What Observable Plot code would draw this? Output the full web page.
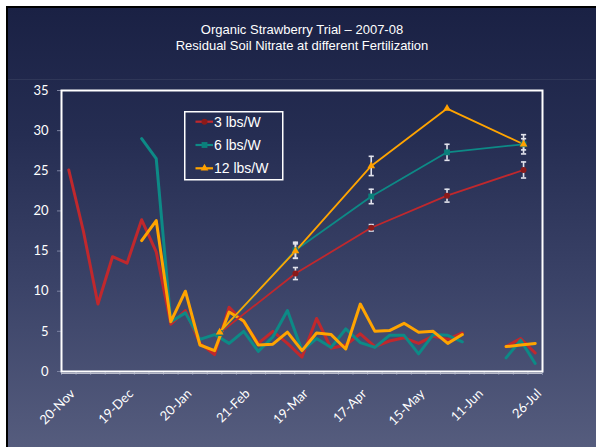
<!DOCTYPE html>
<html>
<head>
<meta charset="utf-8">
<script src="https://cdn.jsdelivr.net/npm/d3@7"></script>
<script src="https://cdn.jsdelivr.net/npm/@observablehq/plot@0.6"></script>
<style>
  html, body { margin: 0; padding: 0; background: #fff; }
  #page { position: relative; width: 596px; height: 447px; overflow: hidden; background: #fff; }
  #panel { position: absolute; left: 6px; top: 6px; width: 600px; height: 450px;
    border-left: 2px solid #000; border-top: 2px solid #000;
    background: linear-gradient(180deg, #1a2144 0%, #252d52 28%, #3b4368 62%, #575e7f 100%); }
  #sep { position: absolute; left: 8px; top: 79px; width: 590px; height: 1px; background: rgba(255,255,255,0.07); }
  #title { position: absolute; left: 8px; width: 588px; top: 22px; text-align: center; color: #fff;
    font: 13px "Liberation Sans", Arial, sans-serif; line-height: 16px; }
  #chart { position: absolute; left: 0; top: 0; }
  #legend { position: absolute; left: 184px; top: 111px; }
</style>
</head>
<body>
<div id="page">
  <div id="panel"></div>
  <div id="sep"></div>
  <div id="title">Organic Strawberry Trial – 2007-08<br>Residual Soil Nitrate at different Fertilization</div>
  <div id="chart"></div>
  <svg id="legend" width="100" height="70"></svg>
</div>
<script>
// ---- data ----
const seriesNames = ["3 lbs/W", "6 lbs/W", "12 lbs/W"];
const lineColors = ["#c0282d", "#0d8a86", "#ffa400"];
const markerColors = ["#8b1a1a", "#0b7f7b", "#ffa000"];
const markerSymbols = ["circle", "square", "triangle"];

// category axis: 33 sampling dates, every 4th labelled
const categoryCount = 33;
const xTickLabels = ["20-Nov", "19-Dec", "20-Jan", "21-Feb", "19-Mar", "17-Apr", "15-May", "11-Jun", "26-Jul"];
const yTicks = [0, 5, 10, 15, 20, 25, 30, 35];

// frequent sampling (thick lines), null = no sample
const daily3 = [25.1, 17.5, 8.4, 14.3, 13.5, 18.9, 14.9, 5.9, 7.6, 3.5, 2.1, 8.0, 6.2, 3.5, 5.0, 3.5, 1.8,
                6.6, 2.9, 3.3, 4.7, 3.1, 3.8, 4.2, 3.5, 4.4, 4.0, 4.8, null, null, 3.1, 4.1, 2.3];
const daily6 = [null, null, null, null, null, 29.0, 26.5, 6.2, 7.3, 4.0, 4.6, 3.5, 5.0, 2.5, 4.3, 7.6, 2.6,
                4.1, 3.0, 5.3, 3.6, 3.0, 4.5, 4.5, 2.2, 4.6, 4.5, 3.7, null, null, 1.7, 3.9, 1.0];
const daily12 = [null, null, null, null, null, 16.3, 18.8, 6.2, 10.0, 3.3, 2.6, 7.4, 6.3, 3.3, 3.4, 4.9, 2.6,
                 4.8, 4.6, 2.8, 8.4, 5.0, 5.1, 6.0, 4.9, 5.0, 3.5, 4.6, null, null, 3.1, 3.3, 3.5];

// monthly means with standard errors (thin lines with markers)
const trendPos = [10.35, 15.55, 20.75, 25.95, 31.2];
const trend3 = [4.8, 12.2, 17.9, 21.9, 25.1];
const trend6 = [4.8, 15.1, 21.8, 27.3, 28.3];
const trend12 = [4.9, 15.0, 25.6, 32.75, 28.3];
const err3 = [null, 0.75, 0.4, 0.8, 1.0];
const err6 = [null, 1.0, 0.9, 1.0, 1.2];
const err12 = [null, 0.9, 1.2, null, 0.7];

// ---- tables built from the arrays ----
const dailyAll = [daily3, daily6, daily12];
const trendAll = [trend3, trend6, trend12];
const errAll = [err3, err6, err12];
const daily = [];
dailyAll.forEach((arr, k) => arr.forEach((v, i) => daily.push({s: seriesNames[k], i, v})));
const trend = [];
trendAll.forEach((arr, k) => arr.forEach((v, j) => trend.push({s: seriesNames[k], k, x: trendPos[j], v, e: errAll[k][j]})));
const errs = trend.filter(d => d.e != null);

const cap = {draw(ctx, size) { const r = Math.sqrt(size / Math.PI); ctx.moveTo(-r, 0); ctx.lineTo(r, 0); }};
const barColor = "#e2e3ec";

const chart = Plot.plot({
  width: 596, height: 447,
  marginLeft: 61, marginRight: 54, marginTop: 90, marginBottom: 76,
  x: {domain: [-0.5, categoryCount - 0.5]},
  y: {domain: [0, 35]},
  color: {domain: seriesNames, range: lineColors},
  style: {background: "transparent", color: "white", fontFamily: "Lato, sans-serif", fontSize: "13px"},
  marks: [
    Plot.axisY({ticks: yTicks, tickSize: 4, tickPadding: 9, stroke: "#7d84a2", fill: "white", label: null, fontSize: 13}),
    Plot.axisX({ticks: d3.range(-0.5, categoryCount, 1), tickSize: 4, tickFormat: () => "", stroke: "#7d84a2", label: null}),
    Plot.axisX({ticks: d3.range(0, categoryCount, 4), tickSize: 0, tickPadding: 20, dx: 4, tickRotate: -45,
      tickFormat: i => xTickLabels[i / 4], fill: "white", label: null, fontSize: 13}),
    Plot.ruleY([0], {stroke: "#b9bccb", strokeWidth: 1, dy: 2}),
    Plot.line(daily, {x: "i", y: "v", z: "s", stroke: "s", strokeWidth: 3, strokeLinejoin: "round"}),
    Plot.line(trend, {x: "x", y: "v", z: "s", stroke: "s", strokeWidth: 1.8}),
    Plot.ruleX(errs, {x: "x", y1: d => d.v - d.e, y2: d => d.v + d.e, stroke: barColor, strokeWidth: 1.6}),
    Plot.dot(errs, {x: "x", y: d => d.v + d.e, symbol: cap, r: 2.6, stroke: barColor, strokeWidth: 1.6}),
    Plot.dot(errs, {x: "x", y: d => d.v - d.e, symbol: cap, r: 2.6, stroke: barColor, strokeWidth: 1.6}),
    Plot.dot(trend.filter(d => d.k === 0), {x: "x", y: "v", symbol: "circle", r: 3, fill: markerColors[0]}),
    Plot.dot(trend.filter(d => d.k === 1), {x: "x", y: "v", symbol: "square", r: 3.3, fill: markerColors[1]}),
    Plot.dot(trend.filter(d => d.k === 2), {x: "x", y: "v", symbol: "triangle", r: 2.9, fill: markerColors[2]}),
    Plot.frame({stroke: "white", strokeWidth: 2})
  ]
});
document.getElementById("chart").appendChild(chart);

// ---- legend ----
const lg = d3.select("#legend");
lg.append("rect").attr("x", 0.75).attr("y", 0.75).attr("width", 98).attr("height", 68)
  .attr("fill", "none").attr("stroke", "white").attr("stroke-width", 1.5);
const rowsY = [10.7, 34, 57.3];
seriesNames.forEach((name, k) => {
  const y = rowsY[k];
  lg.append("line").attr("x1", 11.5).attr("x2", 29).attr("y1", y).attr("y2", y)
    .attr("stroke", lineColors[k]).attr("stroke-width", 2.2);
  const sym = [d3.symbolCircle, d3.symbolSquare, d3.symbolTriangle][k];
  const size = [28, 34, 26][k];
  lg.append("path").attr("d", d3.symbol(sym, size)()).attr("transform", `translate(20.5,${y})`)
    .attr("fill", markerColors[k]);
  lg.append("text").attr("x", 30).attr("y", y + 5).attr("fill", "white")
    .attr("font-family", "'Liberation Sans', Arial, sans-serif").attr("font-size", 14).text(name);
});
</script>
</body>
</html>
